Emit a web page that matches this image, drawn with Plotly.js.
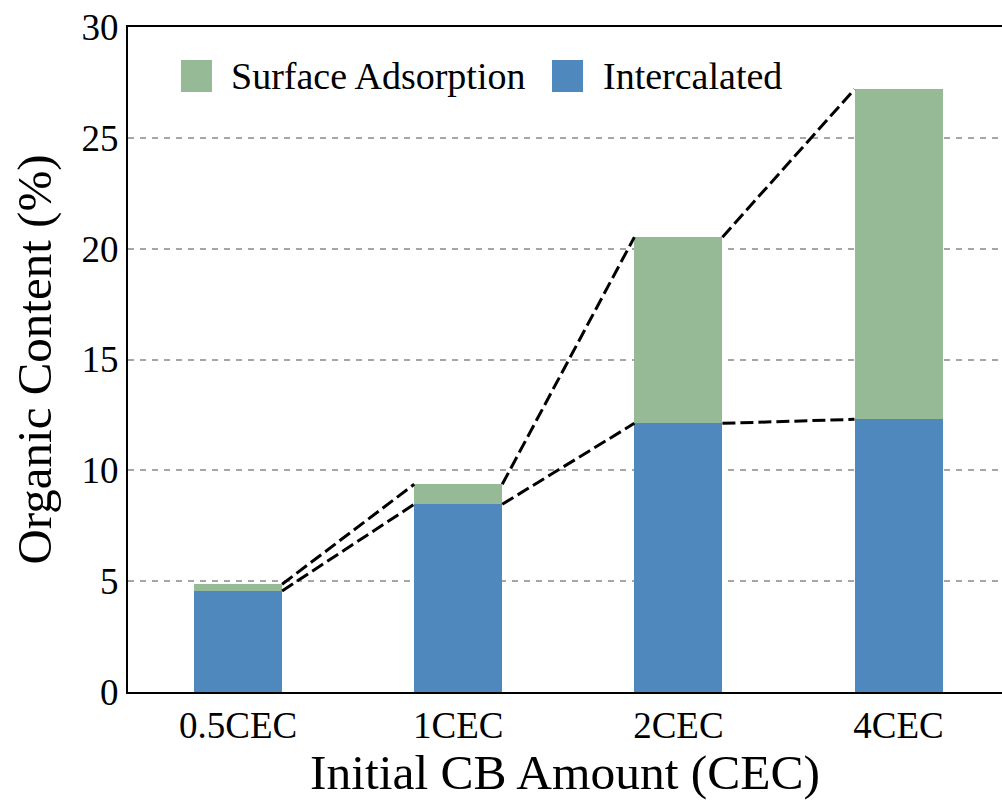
<!DOCTYPE html>
<html><head><meta charset="utf-8">
<script src="https://cdn.plot.ly/plotly-3.0.1.min.js"></script>
<style>body{margin:0;background:#fff}</style></head>
<body><div id="chart" style="width:1002px;height:800px"></div>
<script>
const categories = ['0.5CEC', '1CEC', '2CEC', '4CEC'];
const intercalated = [4.56, 8.47, 12.12, 12.30];
const surfaceAdsorption = [0.30, 0.90, 8.40, 14.89];
const yTickValues = [0, 5, 10, 15, 20, 25, 30];
const seriesNames = ['Surface Adsorption', 'Intercalated'];
const xTitle = 'Initial CB Amount (CEC)';
const yTitle = 'Organic Content (%)';

const barWidth = 0.4;
const greenColor = '#97BA96';
const blueColor = '#4F88BC';
const serif = 'Liberation Serif, Times New Roman, serif';

const idx = categories.map((_, i) => i);
const totals = intercalated.map((v, i) => v + surfaceAdsorption[i]);

function connector(tops) {
  const xs = [], ys = [];
  for (let i = 0; i < tops.length - 1; i++) {
    xs.push(i + barWidth / 2, i + 1 - barWidth / 2, null);
    ys.push(tops[i], tops[i + 1], null);
  }
  return { xs, ys };
}
const lowLine = connector(intercalated);
const highLine = connector(totals);

const dashLine = { color: '#000', width: 3, dash: '13px,5px' };
const traces = [
  { type: 'bar', x: idx, y: intercalated, name: seriesNames[1], width: barWidth,
    marker: { color: blueColor, line: { width: 0 } }, showlegend: false },
  { type: 'bar', x: idx, y: surfaceAdsorption, name: seriesNames[0], width: barWidth,
    marker: { color: greenColor, line: { width: 0 } }, showlegend: false },
  { type: 'scatter', mode: 'lines', x: lowLine.xs, y: lowLine.ys, showlegend: false,
    connectgaps: false, line: dashLine, hoverinfo: 'skip' },
  { type: 'scatter', mode: 'lines', x: highLine.xs, y: highLine.ys, showlegend: false,
    connectgaps: false, line: dashLine, hoverinfo: 'skip' }
];

// Legend drawn as layout decorations (paper coordinates)
const legendItems = [
  { name: seriesNames[0], color: greenColor, x0: 0.0606, x1: 0.0961, tx: 0.1156 },
  { name: seriesNames[1], color: blueColor, x0: 0.4851, x1: 0.5206, tx: 0.5412 }
];
const legendY0 = 0.9023, legendY1 = 0.9504, legendTY = 0.9263;
const shapes = legendItems.map(it => ({
  type: 'rect', xref: 'paper', yref: 'paper', x0: it.x0, x1: it.x1, y0: legendY0, y1: legendY1,
  fillcolor: it.color, line: { width: 0 }, layer: 'above'
}));
const annotations = legendItems.map(it => ({
  xref: 'paper', yref: 'paper', x: it.tx, y: legendTY, xanchor: 'left', yanchor: 'middle',
  text: it.name, showarrow: false, font: { family: serif, size: 38, color: '#000' }
}));

const layout = {
  width: 1002, height: 800,
  margin: { l: 128, r: 0, t: 27, b: 108 },
  paper_bgcolor: '#fff', plot_bgcolor: '#fff',
  barmode: 'stack',
  font: { family: serif, color: '#000', size: 38 },
  showlegend: false,
  shapes: shapes,
  annotations: annotations,
  xaxis: {
    range: [-0.5, 3.47],
    tickmode: 'array', tickvals: idx, ticktext: categories,
    showline: true, linecolor: '#000', linewidth: 2, mirror: true,
    ticks: '', showgrid: false, zeroline: false,
    tickfont: { family: serif, size: 37, color: '#000' },
    title: { text: xTitle, font: { family: serif, size: 49.5, color: '#000' }, standoff: 0 }
  },
  yaxis: {
    range: [0, 30],
    tickmode: 'array', tickvals: yTickValues,
    showline: true, linecolor: '#000', linewidth: 2, mirror: false,
    ticks: '', zeroline: false,
    showgrid: true, gridcolor: '#a6a6a6', gridwidth: 2, griddash: '6px,6px',
    tickfont: { family: serif, size: 37, color: '#000' },
    title: { text: yTitle, font: { family: serif, size: 49, color: '#000' }, standoff: 14 }
  }
};

Plotly.newPlot('chart', traces, layout, { staticPlot: true, displayModeBar: false });
</script>
</body></html>
